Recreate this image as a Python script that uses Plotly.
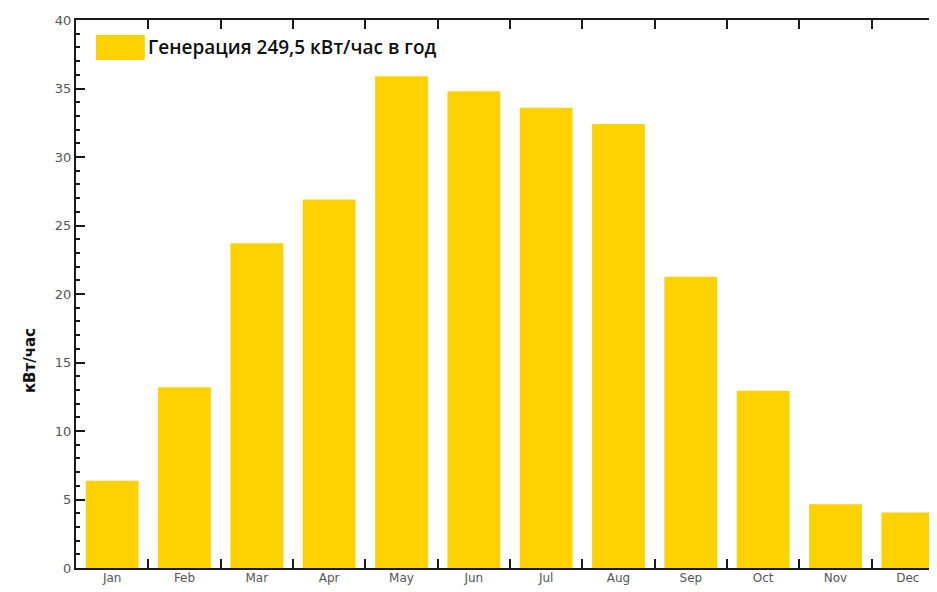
import plotly.graph_objects as go

months = ["Jan", "Feb", "Mar", "Apr", "May", "Jun", "Jul", "Aug", "Sep", "Oct", "Nov", "Dec"]
generation = [6.37, 13.19, 23.7, 26.9, 35.9, 34.8, 33.6, 32.4, 21.26, 12.94, 4.66, 4.05]
legend_label = "Генерация 249,5 кВт/час в год"
y_title = "кВт/час"

BAR = "#FED200"
AX = "#1a1a1a"

fig = go.Figure()
fig.add_trace(go.Bar(
    x=months, y=generation, marker=dict(color=BAR, line=dict(width=0)),
    width=0.73, showlegend=False, hoverinfo="x+y",
))

# page is rendered with an 8px body margin
OFF = 8
PH = 592
L, T, B = 76, 20, 24            # plot area in page px
RIGHT = 946                     # right edge of plot area in page px (beyond window)
W, H = RIGHT - OFF, PH - OFF    # figure size
pw = RIGHT - L
ph = PH - B - T
unit = 72.5                     # px per month category
xmax = -0.5 + pw / unit

def px_x(p):
    return (p - L) / pw

def px_y(p):
    return (PH - B - p) / ph

fig.update_layout(
    width=W, height=H,
    margin=dict(l=L - OFF, r=0, t=T - OFF, b=B, pad=0),
    paper_bgcolor="white", plot_bgcolor="white",
    font=dict(family="DejaVu Sans", size=12, color="#555"),
    xaxis=dict(
        type="category", range=[-0.5, xmax], tickson="boundaries",
        ticks="inside", ticklen=9, tickwidth=2, tickcolor=AX,
        showline=True, linecolor=AX, linewidth=2, mirror="ticks",
        layer="below traces", showgrid=False,
        tickfont=dict(family="DejaVu Sans", size=12, color="#555"),
        ticklabelstandoff=-2,
    ),
    yaxis=dict(
        range=[0, 40], dtick=5, tick0=0,
        ticks="inside", ticklen=9, tickwidth=2, tickcolor=AX,
        minor=dict(dtick=1, ticks="inside", ticklen=4, tickwidth=2, tickcolor=AX, showgrid=False),
        showline=True, linecolor=AX, linewidth=2, mirror="ticks",
        showgrid=False, zeroline=False,
        tickfont=dict(family="DejaVu Sans", size=13, color="#555"),
    ),
    showlegend=False,
)

# legend swatch + text
fig.add_shape(type="rect", xref="paper", yref="paper",
              x0=px_x(96), x1=px_x(145), y0=px_y(60), y1=px_y(35),
              fillcolor=BAR, line=dict(width=0))
fig.add_annotation(xref="paper", yref="paper", x=px_x(146), y=px_y(47),
                   text=legend_label, showarrow=False, xanchor="left", yanchor="middle",
                   font=dict(family="Open Sans", size=19, color="#111", weight=600))

# y axis title
fig.add_annotation(xref="paper", yref="paper", x=px_x(30), y=px_y(361),
                   text=y_title, showarrow=False, textangle=-90,
                   xanchor="center", yanchor="middle",
                   font=dict(family="DejaVu Sans", size=15, color="#111", weight="bold"))

fig.write_html("out.html")
